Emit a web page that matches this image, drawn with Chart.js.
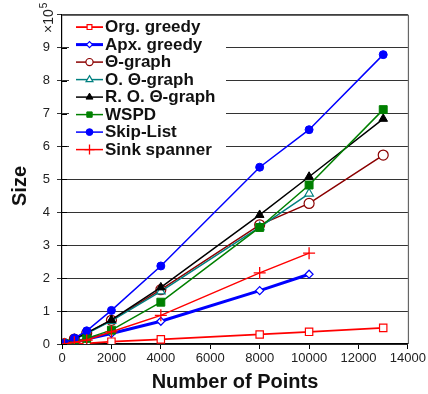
<!DOCTYPE html>
<html>
<head>
<meta charset="utf-8">
<script src="https://cdn.jsdelivr.net/npm/chart.js@4/dist/chart.umd.min.js"></script>
<style>
html,body{margin:0;padding:0;background:#fff;}
#wrap{width:428px;height:394px;position:relative;}
</style>
</head>
<body>
<div id="wrap"><canvas id="c" width="428" height="394"></canvas></div>
<script>
// Data (sizes in units of 10^5)
const numPoints = [100, 500, 1000, 2000, 4000, 8000, 10000, 13000];
const orgGreedy   = [0.00, 0.01, 0.02, 0.07, 0.14, 0.29, 0.37, 0.49];
const apxGreedy   = [0.00, 0.05, 0.15, 0.32, 0.69, 1.62, 2.12, null];
const thetaGraph  = [0.01, 0.15, 0.33, 0.72, 1.65, 3.62, 4.27, 5.74];
const oThetaGraph = [0.01, 0.14, 0.32, 0.70, 1.60, 3.55, 4.57, null];
const roThetaGraph= [0.01, 0.15, 0.34, 0.73, 1.72, 3.92, 5.08, 6.84];
const wspd        = [0.01, 0.06, 0.17, 0.42, 1.27, 3.54, 4.83, 7.12];
const skipList    = [0.02, 0.18, 0.40, 1.02, 2.37, 5.37, 6.51, 8.79];
const sinkSpanner = [0.00, 0.05, 0.12, 0.37, 0.87, 2.16, 2.76, null];
const seriesNames = ["Org. greedy","Apx. greedy","\u0398-graph","O. \u0398-graph","R. O. \u0398-graph","WSPD","Skip-List","Sink spanner"];
const xTicks = [0, 2000, 4000, 6000, 8000, 10000, 12000, 14000];
const yTicks = [0, 1, 2, 3, 4, 5, 6, 7, 8, 9];

const seriesValues = [orgGreedy, apxGreedy, thetaGraph, oThetaGraph, roThetaGraph, wspd, skipList, sinkSpanner];
const styles = [
  {color:'#ff0000', point:'rect', r:5.2, lr:3.4, fill:'#ffffff', lw:1.8, pbw:1.2},
  {color:'#0000ff', point:'rectRot', r:4, lr:3, fill:'#ffffff', lw:3, pbw:1.2},
  {color:'#8b0000', point:'circle', r:5, lr:3.6, fill:'#ffffff', lw:1.5, pbw:1.2},
  {color:'#008080', point:'triangle', r:5, lr:4, fill:'#ffffff', lw:1.5, pbw:1.2},
  {color:'#000000', point:'triangle', r:5, lr:4, fill:'#000000', lw:1.5, pbw:1},
  {color:'#008000', point:'rect', r:5.6, lr:3.8, fill:'#008000', lw:1.5, pbw:1},
  {color:'#0000ff', point:'circle', r:4, lr:3.4, fill:'#0000ff', lw:1.5, pbw:1},
  {color:'#ff0000', point:'cross', r:6, lr:5, fill:'#ff0000', lw:1.5, pbw:1.3}
];

const datasets = seriesNames.map((name, i) => ({
  label: name,
  data: numPoints.map((x, j) => seriesValues[i][j] === null ? null : {x: x, y: seriesValues[i][j]}).filter(p => p),
  borderColor: styles[i].color,
  backgroundColor: styles[i].fill,
  borderWidth: styles[i].lw,
  pointStyle: styles[i].point,
  pointRadius: styles[i].r,
  pointBorderWidth: styles[i].pbw,
  pointBorderColor: styles[i].color,
  pointBackgroundColor: styles[i].fill,
  tension: 0,
  order: seriesNames.length - i
}));

const FONT = "'Liberation Sans', Arial, sans-serif";

const decor = {
  id: 'decor',
  afterDraw(chart) {
    const ctx = chart.ctx;
    const a = chart.chartArea;
    ctx.save();
    // frame top & right
    ctx.strokeStyle = '#666';
    ctx.lineWidth = 1.2;
    ctx.beginPath();
    ctx.moveTo(a.left, a.top + 0.5);
    ctx.lineTo(a.right + 0.5, a.top + 0.5);
    ctx.lineTo(a.right + 0.5, a.bottom);
    ctx.stroke();

    // inner part of y ticks
    ctx.strokeStyle = '#000';
    ctx.lineWidth = 1;
    const ys = chart.scales.y;
    yTicks.forEach(v => {
      const py = Math.round(ys.getPixelForValue(v)) + 0.5;
      ctx.beginPath(); ctx.moveTo(a.left, py); ctx.lineTo(a.left + 5, py); ctx.stroke();
    });

    // legend box
    ctx.fillStyle = '#ffffff';
    ctx.fillRect(a.left + 7, a.top + 2, 157, 142);
    ctx.font = "bold 17px " + FONT;
    ctx.textBaseline = 'middle';
    ctx.textAlign = 'left';
    for (let i = 0; i < seriesNames.length; i++) {
      const s = styles[i];
      const cy = a.top + 12.3 + i * 17.5;
      ctx.strokeStyle = s.color;
      ctx.lineWidth = s.lw;
      ctx.beginPath();
      ctx.moveTo(a.left + 14, cy);
      ctx.lineTo(a.left + 41, cy);
      ctx.stroke();
      ctx.fillStyle = s.fill;
      ctx.strokeStyle = s.color;
      ctx.lineWidth = s.pbw;
      Chart.helpers.drawPoint(ctx, {pointStyle: s.point, radius: s.lr, rotation: 0, borderWidth: s.pbw}, a.left + 27.5, cy);
      ctx.fillStyle = '#111';
      ctx.fillText(seriesNames[i], a.left + 43, cy + 0.5);
    }

    // y axis title
    ctx.save();
    ctx.translate(20, 186);
    ctx.rotate(-Math.PI / 2);
    ctx.font = "bold 20px " + FONT;
    ctx.textAlign = 'center';
    ctx.textBaseline = 'middle';
    ctx.fillStyle = '#111';
    ctx.fillText('Size', 0, 0);
    ctx.restore();

    // x10^5 multiplier
    ctx.save();
    ctx.translate(49, 33);
    ctx.rotate(-Math.PI / 2);
    ctx.fillStyle = '#222';
    ctx.textBaseline = 'middle';
    ctx.textAlign = 'left';
    ctx.font = "14px " + FONT;
    ctx.fillText('\u00d710', 0, 0);
    const w = ctx.measureText('\u00d710').width;
    ctx.font = "10px " + FONT;
    ctx.fillText('5', w + 1, -5);
    ctx.restore();

    ctx.restore();
  }
};

new Chart(document.getElementById('c'), {
  type: 'line',
  data: { datasets: datasets },
  options: {
    responsive: false,
    animation: false,
    devicePixelRatio: 1,
    layout: { padding: { top: 11, right: 11, left: 0, bottom: 0 } },
    plugins: { legend: { display: false }, tooltip: { enabled: false } },
    elements: { line: { fill: false } },
    scales: {
      x: {
        type: 'linear',
        min: 0, max: 14000,
        afterBuildTicks(scale) { scale.ticks = xTicks.map(v => ({value: v})); },
        afterFit(scale) { scale.height = 50; },
        ticks: {
          callback: v => String(v),
          font: { family: FONT, size: 13 },
          color: '#222',
          padding: 2,
          maxRotation: 0,
          autoSkip: false
        },
        grid: { display: true, drawOnChartArea: false, drawTicks: true, tickLength: 5, color: '#000', lineWidth: 1 },
        border: { color: '#000', width: 1.2 },
        title: {
          display: true,
          text: 'Number of Points',
          font: { family: FONT, size: 20, weight: 'bold' },
          color: '#111',
          padding: { top: 0, bottom: 0 }
        }
      },
      y: {
        type: 'linear',
        min: 0, max: 10,
        afterBuildTicks(scale) { scale.ticks = yTicks.concat([10]).map(v => ({value: v})); },
        afterFit(scale) { scale.width = 62; },
        ticks: {
          callback: v => (v === 10 ? '' : String(v)),
          font: { family: FONT, size: 13 },
          color: '#222',
          padding: 7
        },
        grid: { color: '#333', lineWidth: 1, tickLength: 5 },
        border: { color: '#000', width: 1.2 }
      }
    }
  },
  plugins: [decor]
});
</script>
</body>
</html>
